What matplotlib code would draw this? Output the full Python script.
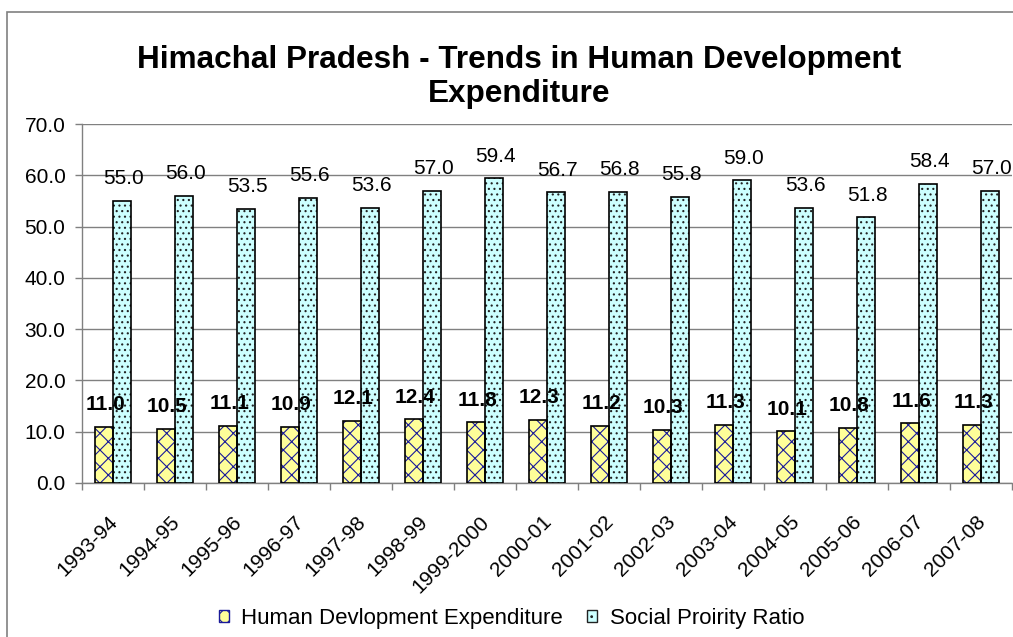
import matplotlib
matplotlib.use("Agg")
import numpy as np
import matplotlib.pyplot as plt
from matplotlib.patches import Rectangle, Patch
from matplotlib.transforms import ScaledTranslation

plt.rcParams['font.family'] = ['Liberation Sans', 'DejaVu Sans']
plt.rcParams['hatch.linewidth'] = 0.8

years = ['1993-94', '1994-95', '1995-96', '1996-97', '1997-98', '1998-99', '1999-2000',
         '2000-01', '2001-02', '2002-03', '2003-04', '2004-05', '2005-06', '2006-07', '2007-08']
hde = [11.0, 10.5, 11.1, 10.9, 12.1, 12.4, 11.8, 12.3, 11.2, 10.3, 11.3, 10.1, 10.8, 11.6, 11.3]
spr = [55.0, 56.0, 53.5, 55.6, 53.6, 57.0, 59.4, 56.7, 56.8, 55.8, 59.0, 53.6, 51.8, 58.4, 57.0]

fig = plt.figure(figsize=(10.13, 6.37), dpi=100)
ax = fig.add_axes([0.081, 0.2418, 0.918, 0.5635])

x = np.arange(len(years))
w = 0.29
grey = "#808080"

# fills + hatch (hatch takes edge colour), then black outline on top
ax.bar(x - w / 2, hde, w, color="#FFFF99", edgecolor="#1a1a99", hatch="xx", linewidth=0, zorder=3)
ax.bar(x - w / 2, hde, w, fill=False, edgecolor="black", linewidth=1.2, zorder=4)
ax.bar(x + w / 2, spr, w, color="#CCFFFF", edgecolor="#222222", hatch="...", linewidth=0, zorder=3)
ax.bar(x + w / 2, spr, w, fill=False, edgecolor="black", linewidth=1.2, zorder=4)

for xi, v in zip(x, hde):
    ax.annotate(f"{v:.1f}", (xi - w / 2, v), xytext=(1, 12), textcoords="offset points",
                ha="center", va="baseline", fontsize=15, fontweight="bold", zorder=5)
for xi, v in zip(x, spr):
    ax.annotate(f"{v:.1f}", (xi + w / 2, v), xytext=(1, 12), textcoords="offset points",
                ha="center", va="baseline", fontsize=15, zorder=5)

ax.set_xlim(-0.5, len(years) - 0.5)
ax.set_ylim(0, 70)
ax.set_yticks(np.arange(0, 71, 10))
ax.set_yticklabels([f"{t:.1f}" for t in np.arange(0, 71, 10)], fontsize=15)
ax.yaxis.grid(True, color=grey, linewidth=1)
ax.set_axisbelow(True)

ax.set_xticks(x)
ax.set_xticklabels(years, rotation=45, ha="right", va="top", rotation_mode="anchor", fontsize=15)
ax.tick_params(axis="x", length=0, pad=21)
for lab in ax.get_xticklabels():
    lab.set_transform(lab.get_transform() + ScaledTranslation(-4 / 72, 0, fig.dpi_scale_trans))
ax.set_xticks(np.arange(-0.5, len(years)), minor=True)
ax.tick_params(axis="x", which="minor", length=5, color=grey, width=1)
ax.tick_params(axis="y", length=5, color=grey, width=1, pad=7)

for s in ["top", "right"]:
    ax.spines[s].set_visible(False)
for s in ["left", "bottom"]:
    ax.spines[s].set_color(grey)
    ax.spines[s].set_linewidth(1)

fig.text(0.512, 0.879, "Himachal Pradesh - Trends in Human Development\nExpenditure",
         ha="center", va="center", fontsize=22.7, fontweight="bold", linespacing=1.2)

handles = [Patch(facecolor="#FFFF99", edgecolor="#1a1a99", hatch="xx"),
           Patch(facecolor="#CCFFFF", edgecolor="#222222", hatch="..")]
fig.legend(handles, ["Human Devlopment Expenditure", "Social Proirity Ratio"],
           loc="center", bbox_to_anchor=(0.505, 0.029), ncol=2, frameon=False, fontsize=16,
           handlelength=0.45, handleheight=0.45, handletextpad=0.55, columnspacing=1.1)

fig.patches.append(Rectangle((0.007, -0.1), 1.1, 1.081, transform=fig.transFigure,
                             fill=False, edgecolor=grey, linewidth=1.2))

fig.savefig("out.png", dpi=100)
